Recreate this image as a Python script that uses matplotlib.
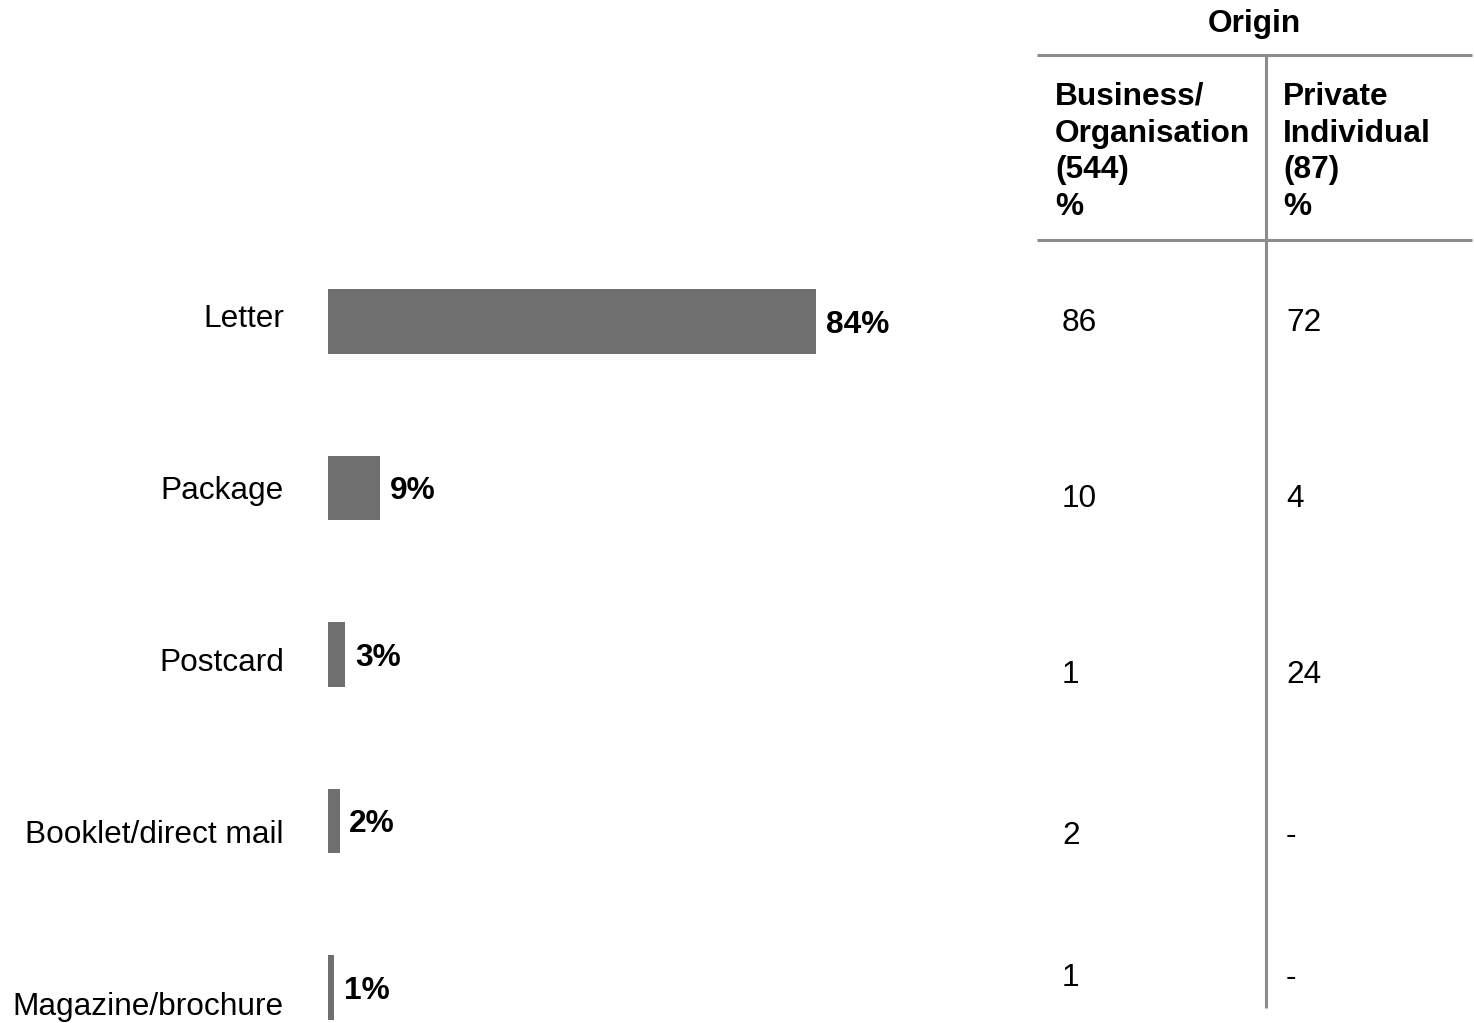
import matplotlib
matplotlib.use("Agg")
import matplotlib.pyplot as plt

plt.rcParams['font.family'] = ['Liberation Sans', 'DejaVu Sans']

categories = ["Letter", "Package", "Postcard", "Booklet/direct mail", "Magazine/brochure"]
totals = [84, 9, 3, 2, 1]
business = ["86", "10", "1", "2", "1"]
private = ["72", "4", "24", "-", "-"]
col_heads = ["Business/\nOrganisation\n(544)\n%", "Private\nIndividual\n(87)\n%"]
group_title = "Origin"

W, H = 1474, 1023
fig = plt.figure(figsize=(W / 100, H / 100), dpi=100)

BAR = "#6f6f6f"
LINE = "#8c8c8c"
FS = 22.8

# bar panel: 0% sits at x=328px, 5.81 px per percent, rows 166.5 px apart
ppx = 5.81
x0, x1 = 328, 1000
row0, pitch = 321.5, 166.5
ax = fig.add_axes([x0 / W, 0, (x1 - x0) / W, 1])
ax.set_xlim(0, (x1 - x0) / ppx)
ax.set_ylim(4 + (H - (row0 + 4 * pitch)) / pitch, -row0 / pitch)
ax.axis("off")

ypos = list(range(len(categories)))
ax.barh(ypos, totals, height=0.39, color=BAR)
for y, v in zip(ypos, totals):
    ax.annotate(f"{v}%", (v, y), xytext=(7, -2.5), textcoords="offset points",
                ha="left", va="center", fontsize=FS, fontweight="bold")

# overlay in pixel space for category labels and the side table
ov = fig.add_axes([0, 0, 1, 1])
ov.set_xlim(0, W)
ov.set_ylim(H, 0)
ov.axis("off")

for i, name in enumerate(categories):
    ov.text(284, 319 + 172 * i, name, ha="right", va="center", fontsize=FS)

ov.text(1254, 24, group_title, ha="center", va="center", fontsize=FS, fontweight="bold")
ov.plot([1037, 1472], [55, 55], color=LINE, lw=2.2, solid_capstyle="butt")
ov.plot([1037, 1472], [240, 240], color=LINE, lw=2.2, solid_capstyle="butt")
ov.plot([1266.5, 1266.5], [55, 1008], color=LINE, lw=2.2, solid_capstyle="butt")

ov.text(1055, 152, col_heads[0], ha="left", va="center", fontsize=FS,
        fontweight="bold", linespacing=1.3)
ov.text(1283, 152, col_heads[1], ha="left", va="center", fontsize=FS,
        fontweight="bold", linespacing=1.3)

row_y = [323, 499, 675, 836, 978]
for y, b, p in zip(row_y, business, private):
    ov.text(1062, y, b, ha="left", va="center", fontsize=FS)
    ov.text(1286, y, p, ha="left", va="center", fontsize=FS)

fig.savefig("out.png", dpi=100)
